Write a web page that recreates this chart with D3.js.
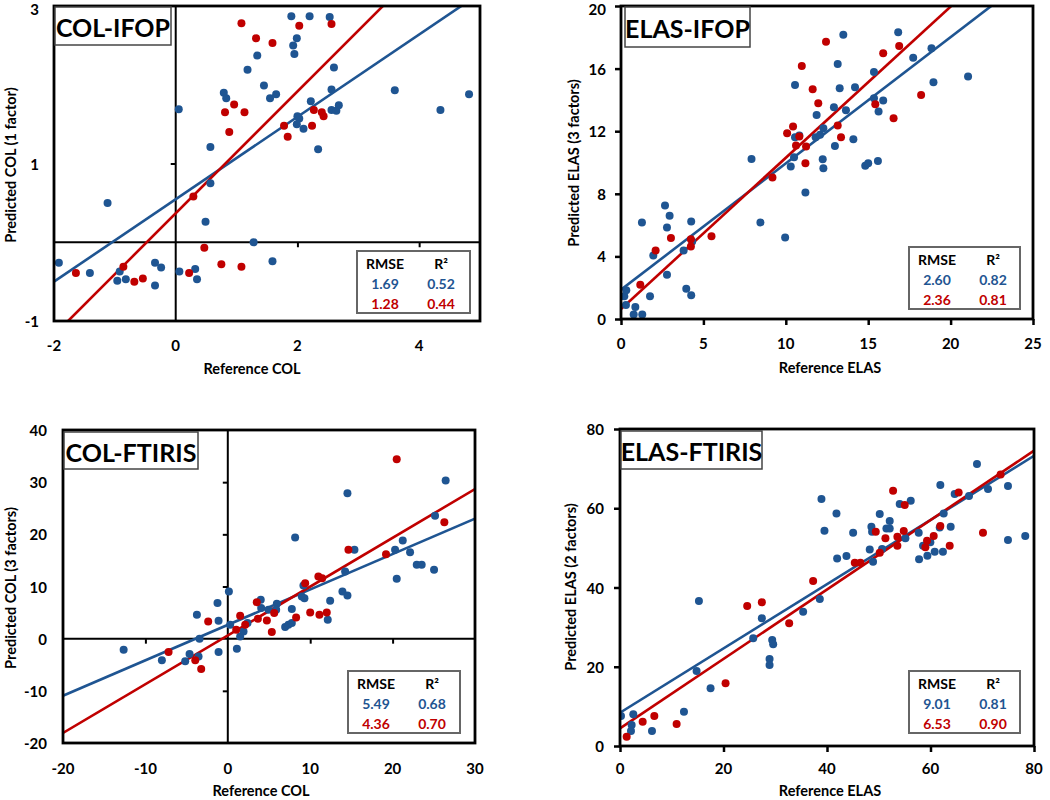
<!DOCTYPE html>
<html>
<head>
<meta charset="utf-8">
<script src="https://cdn.jsdelivr.net/npm/d3@7"></script>
<style>
  html, body { margin: 0; padding: 0; background: #fff; }
  svg { display: block; }
  text { font-family: Lato, "Open Sans", "DejaVu Sans", sans-serif; font-weight: bold; }
</style>
</head>
<body>
<svg id="chart" width="1050" height="800"></svg>
<script>
// ---------------- DATA ----------------
// Panel 1: COL-IFOP
const colIfopBlue = [
  [-1.92,-0.26],[-1.41,-0.39],[-1.12,0.50],[-0.96,-0.49],[-0.82,-0.47],[-0.92,-0.37],
  [-0.34,-0.26],[-0.24,-0.32],[-0.34,-0.55],[0.06,-0.37],[0.32,-0.34],[0.35,-0.47],
  [0.05,1.69],[0.57,1.21],[0.57,0.75],[0.49,0.26],[1.28,0.00],[1.59,-0.24],
  [0.79,1.90],[0.83,1.83],[1.18,2.19],[1.34,2.37],[1.45,1.99],[1.55,1.83],[1.65,1.88],
  [1.90,2.87],[2.20,2.87],[2.53,2.86],[1.99,2.59],[1.93,2.50],[1.95,2.39],[2.60,2.22],
  [2.56,1.94],[2.22,1.79],[2.00,1.60],[2.03,1.57],[1.99,1.50],[2.10,1.44],[2.34,1.18],
  [2.56,1.68],[2.64,1.67],[2.68,1.74],[3.60,1.93],[4.35,1.68],[4.82,1.88]
];
const colIfopRed = [
  [-1.64,-0.39],[-0.86,-0.31],[-0.68,-0.50],[-0.54,-0.46],[0.22,-0.39],[0.47,-0.07],
  [0.75,-0.28],[1.08,-0.31],[0.29,0.58],[0.88,1.40],[0.81,1.65],[0.96,1.75],[1.13,1.65],
  [1.08,2.78],[1.32,2.59],[1.59,2.53],[2.03,2.75],[2.56,2.77],[1.78,1.48],[1.84,1.34],
  [2.24,1.48],[2.27,1.68],[2.40,1.65],[2.43,1.60]
];
const colIfopFitBlue = [0.523, 0.546];   // slope, intercept
const colIfopFitRed  = [0.773, 0.368];
const colIfopStats = ["1.69","0.52","1.28","0.44"];
const colIfopXTicks = [-2, 0, 2, 4];
const colIfopYTicks = [-1, 1, 3];

// Panel 2: ELAS-IFOP
const elasIfopBlue = [
  [0.2,1.45],[0.32,1.83],[0.3,0.9],[0.77,0.28],[0.87,0.77],[1.29,0.28],[1.27,6.17],
  [1.76,1.45],[1.96,4.06],[2.67,7.26],[2.79,5.85],[2.95,6.6],[2.79,2.83],[3.8,4.38],
  [3.96,1.94],[4.26,1.51],[4.26,6.23],[4.32,4.96],[7.92,10.23],[8.46,6.17],[9.96,5.21],
  [10.30,9.74],[10.56,14.96],[10.5,10.34],[10.56,11.62],[10.82,11.72],[11.19,8.09],
  [11.81,11.62],[11.87,13.04],[12.08,11.77],[12.28,12.19],[12.24,10.21],[12.28,9.64],
  [12.92,13.53],[12.98,11.06],[13.15,16.3],[13.27,14.74],[13.49,18.17],[13.65,13.34],
  [14.1,11.49],[14.2,14.81],[14.82,9.79],[15.0,9.96],[15.35,15.79],[15.35,14.1],
  [15.59,10.1],[15.63,13.26],[15.91,13.96],[16.82,18.32],[17.73,16.7],[18.84,17.3],
  [18.96,15.13],[21.06,15.49]
];
const elasIfopRed = [
  [1.17,2.19],[2.10,4.38],[3.03,5.17],[4.24,5.1],[4.24,4.64],[5.49,5.28],[9.19,9.04],
  [10.08,11.87],[10.44,12.3],[10.82,11.66],[10.62,11.09],[10.97,16.17],[11.19,9.96],
  [11.23,11.02],[11.63,14.68],[11.97,13.79],[12.44,17.72],[13.15,12.36],[13.35,11.62],
  [15.43,13.72],[15.91,16.98],[16.54,12.83],[16.88,17.45],[18.21,14.32]
];
const elasIfopFitBlue = [0.807, 1.87];
const elasIfopFitRed  = [0.966, 0.64];
const elasIfopStats = ["2.60","0.82","2.36","0.81"];
const elasIfopXTicks = [0, 5, 10, 15, 20, 25];
const elasIfopYTicks = [0, 4, 8, 12, 16, 20];

// Panel 3: COL-FTIRIS
const colFtirisBlue = [
  [-12.64,-2.12],[-8.0,-4.16],[-5.17,-4.35],[-4.64,-2.95],[-3.55,-3.4],[-3.75,4.58],
  [-3.43,-0.01],[-1.25,6.82],[-1.12,3.43],[-1.12,-2.57],[0.13,9.05],[0.29,2.67],
  [1.1,-1.93],[1.5,0.43],[1.91,1.39],[2.39,2.99],[4.0,7.45],[4.05,5.86],[4.94,5.54],
  [5.95,6.67],[5.87,5.54],[6.96,2.22],[7.36,2.67],[7.77,2.99],[7.77,5.67],[8.17,19.39],
  [8.98,8.09],[9.3,7.77],[9.18,10.2],[12.13,3.63],[12.42,7.26],[13.91,9.05],[14.52,8.28],
  [14.24,12.88],[14.52,27.87],[15.37,17.03],[20.3,17.03],[20.5,11.47],[21.23,18.81],
  [22.12,16.58],[22.93,14.15],[23.53,14.15],[25.03,13.2],[25.15,23.54],[26.44,30.3]
];
const colFtirisRed = [
  [-7.19,-2.57],[-3.95,-4.16],[-3.23,-5.82],[-2.38,3.3],[1.02,1.71],[1.5,4.39],[2.11,2.67],
  [3.52,7.0],[3.65,3.82],[4.74,3.5],[5.34,1.26],[5.63,4.9],[8.29,4.07],[9.39,10.64],
  [10.0,5.03],[10.99,11.92],[11.45,11.6],[11.12,4.58],[12.01,5.03],[14.64,17.03],
  [19.2,16.2],[20.5,34.38],[26.28,22.32]
];
const colFtirisFitBlue = [0.679, 2.65];
const colFtirisFitRed  = [0.935, 0.63];
const colFtirisStats = ["5.49","0.68","4.36","0.70"];
const colFtirisXTicks = [-20, -10, 0, 10, 20, 30];
const colFtirisYTicks = [-20, -10, 0, 10, 20, 30, 40];

// Panel 4: ELAS-FTIRIS
const elasFtirisBlue = [
  [0.19,7.57],[2.57,7.99],[2.25,5.3],[2.12,3.78],[6.18,3.78],[12.36,8.66],[14.8,18.92],
  [15.25,36.59],[17.5,14.55],[25.74,27.17],[27.41,32.21],[28.9,21.95],[28.9,20.44],
  [29.41,26.75],[29.6,25.65],[35.39,33.89],[38.61,37.09],[38.93,62.32],[39.51,54.33],
  [41.83,58.7],[41.96,47.35],[43.76,47.94],[45.05,53.83],[48.26,49.62],[48.58,55.34],
  [48.71,54.08],[48.9,46.51],[50.19,58.54],[50.64,49.71],[51.48,54.92],[52.12,56.77],
  [52.12,54.92],[54.05,61.06],[55.15,52.4],[56.18,61.9],[57.72,53.83],[57.79,47.1],
  [58.56,50.55],[59.4,48.02],[59.97,51.39],[60.81,49.03],[61.78,55.17],[61.9,65.85],
  [62.4,49.03],[62.55,58.7],[63.9,55.34],[64.67,63.58],[67.44,63.08],[68.98,71.15],
  [71.11,64.84],[74.97,65.6],[74.97,51.98],[78.31,52.99]
];
const elasFtirisRed = [
  [1.29,2.35],[4.38,6.14],[6.63,7.57],[10.94,5.55],[20.4,15.81],[24.58,35.32],[27.41,36.25],
  [32.69,30.95],[37.32,41.63],[45.37,46.26],[46.46,46.26],[49.42,54.08],[50.19,48.78],
  [51.29,52.4],[52.77,64.42],[53.6,52.82],[53.6,50.55],[54.83,54.25],[55.02,60.81],
  [59.01,50.13],[59.33,51.81],[60.62,52.99],[61.9,55.51],[63.71,50.55],[65.44,64.0],
  [70.14,53.83],[73.55,68.54]
];
const elasFtirisFitBlue = [0.8105, 8.41];
const elasFtirisFitRed  = [0.876, 4.46];
const elasFtirisStats = ["9.01","0.81","6.53","0.90"];
const elasFtirisXTicks = [0, 20, 40, 60, 80];
const elasFtirisYTicks = [0, 20, 40, 60, 80];

const BLUE = "#1f5592";
const RED = "#c00000";

// ---------------- DRAW ----------------
const svg = d3.select("#chart");

function drawPanel(cfg, idx) {
  const f = cfg.frame;
  const x = d3.scaleLinear().domain(cfg.xDomain).range([f[0], f[2]]);
  const y = d3.scaleLinear().domain(cfg.yDomain).range([f[3], f[1]]);
  const g = svg.append("g");

  const clipId = "clip" + idx;
  g.append("clipPath").attr("id", clipId)
    .append("rect").attr("x", f[0]).attr("y", f[1]).attr("width", f[2]-f[0]).attr("height", f[3]-f[1]);

  if (cfg.zeroAxes) {
    const x0 = x(0), y0 = y(0);
    const xAxis = d3.axisBottom(x).tickValues(cfg.xTicks.filter(v => v !== 0 && v !== cfg.xDomain[0] && v !== cfg.xDomain[1]))
      .tickSize(5).tickFormat("");
    const gx = g.append("g").attr("transform", `translate(0,${y0})`).call(xAxis);
    gx.select(".domain").remove();
    gx.selectAll(".tick line").attr("stroke", "#000").attr("stroke-width", 2);
    g.append("line").attr("x1", f[0]).attr("x2", f[2]).attr("y1", y0).attr("y2", y0)
      .attr("stroke", "#000").attr("stroke-width", 2);
    const yAxis = d3.axisLeft(y).tickValues(cfg.yTicks.filter(v => v !== 0 && v !== cfg.yDomain[0] && v !== cfg.yDomain[1]))
      .tickSize(5).tickFormat("");
    const gy = g.append("g").attr("transform", `translate(${x0},0)`).call(yAxis);
    gy.select(".domain").remove();
    gy.selectAll(".tick line").attr("stroke", "#000").attr("stroke-width", 2);
    g.append("line").attr("x1", x0).attr("x2", x0).attr("y1", f[1]).attr("y2", f[3])
      .attr("stroke", "#000").attr("stroke-width", 2);
  } else {
    const xAxis = d3.axisBottom(x).tickValues(cfg.xTicks).tickSize(6).tickFormat("");
    const gx = g.append("g").attr("transform", `translate(0,${f[3]})`).call(xAxis);
    gx.select(".domain").remove();
    gx.selectAll(".tick line").attr("stroke", "#000").attr("stroke-width", 2.5);
    const yAxis = d3.axisLeft(y).tickValues(cfg.yTicks).tickSize(6).tickFormat("");
    const gy = g.append("g").attr("transform", `translate(${f[0]},0)`).call(yAxis);
    gy.select(".domain").remove();
    gy.selectAll(".tick line").attr("stroke", "#000").attr("stroke-width", 2.5);
  }

  // tick labels
  g.selectAll(".xl").data(cfg.xTicks).enter().append("text")
    .attr("x", d => x(d)).attr("y", cfg.xLabelY)
    .attr("text-anchor", "middle").attr("dominant-baseline", "central")
    .attr("font-size", 15).attr("fill", "#000").text(d => d);
  g.selectAll(".yl").data(cfg.yTicks).enter().append("text")
    .attr("x", cfg.yLabelRight).attr("y", d => Math.max(y(d), 9))
    .attr("text-anchor", "end").attr("dominant-baseline", "central")
    .attr("font-size", 15).attr("fill", "#000").text(d => d);

  // regression lines
  const plot = g.append("g").attr("clip-path", `url(#${clipId})`);
  const line = d3.line().x(d => x(d[0])).y(d => y(d[1]));
  [[cfg.fitBlue, BLUE], [cfg.fitRed, RED]].forEach(([fit, col]) => {
    const pts = cfg.xDomain.map(v => [v, fit[0]*v + fit[1]]);
    plot.append("path").attr("d", line(pts)).attr("fill", "none")
      .attr("stroke", col).attr("stroke-width", 2.6);
  });

  // points
  plot.selectAll(".b").data(cfg.blue).enter().append("circle")
    .attr("cx", d => x(d[0])).attr("cy", d => y(d[1])).attr("r", 4).attr("fill", BLUE);
  plot.selectAll(".r").data(cfg.red).enter().append("circle")
    .attr("cx", d => x(d[0])).attr("cy", d => y(d[1])).attr("r", 4).attr("fill", RED);

  // frame
  g.append("rect").attr("x", f[0]).attr("y", f[1]).attr("width", f[2]-f[0]).attr("height", f[3]-f[1])
    .attr("fill", "none").attr("stroke", "#000").attr("stroke-width", 2.8);

  // title box
  const tb = cfg.titleBox;
  g.append("rect").attr("x", tb[0]).attr("y", tb[1]).attr("width", tb[2]-tb[0]).attr("height", tb[3]-tb[1])
    .attr("fill", "#fff").attr("stroke", "#444").attr("stroke-width", 1.5);
  g.append("text").attr("x", (tb[0]+tb[2])/2).attr("y", (tb[1]+tb[3])/2 + 1)
    .attr("text-anchor", "middle").attr("dominant-baseline", "central")
    .attr("font-size", 25).attr("fill", "#000").text(cfg.title);

  // stats legend
  const lb = cfg.legendBox;
  g.append("rect").attr("x", lb[0]).attr("y", lb[1]).attr("width", lb[2]-lb[0]).attr("height", lb[3]-lb[1])
    .attr("fill", "#fff").attr("stroke", "#666").attr("stroke-width", 2);
  const c1 = lb[0] + 28, c2 = lb[0] + 84;
  const rows = [lb[1] + 12, lb[1] + 32, lb[1] + 52];
  const hdr = [["RMSE", c1], ["R²", c2]];
  hdr.forEach(([t, cx]) => g.append("text").attr("x", cx).attr("y", rows[0])
    .attr("text-anchor", "middle").attr("dominant-baseline", "central")
    .attr("font-size", 14).attr("fill", "#000").text(t));
  const s = cfg.stats;
  [[s[0], c1, rows[1], BLUE], [s[1], c2, rows[1], BLUE], [s[2], c1, rows[2], RED], [s[3], c2, rows[2], RED]]
    .forEach(([t, cx, cy, col]) => g.append("text").attr("x", cx).attr("y", cy)
      .attr("text-anchor", "middle").attr("dominant-baseline", "central")
      .attr("font-size", 14).attr("fill", col).text(t));

  // axis titles
  g.append("text").attr("x", cfg.xTitle[1]).attr("y", cfg.xTitle[2])
    .attr("text-anchor", "middle").attr("dominant-baseline", "central")
    .attr("font-size", 14.5).attr("fill", "#000").text(cfg.xTitle[0]);
  g.append("text").attr("transform", `translate(${cfg.yTitle[1]},${cfg.yTitle[2]}) rotate(-90)`)
    .attr("text-anchor", "middle").attr("dominant-baseline", "central")
    .attr("font-size", 14.5).attr("fill", "#000").text(cfg.yTitle[0]);
}

const panels = [
  { frame: [54, 6, 480, 321], xDomain: [-2, 5], yDomain: [-1, 3], zeroAxes: true,
    xTicks: colIfopXTicks, yTicks: colIfopYTicks, blue: colIfopBlue, red: colIfopRed,
    fitBlue: colIfopFitBlue, fitRed: colIfopFitRed, stats: colIfopStats,
    title: "COL-IFOP", titleBox: [55, 7, 171, 45], legendBox: [357, 251, 470, 313],
    xLabelY: 345, yLabelRight: 39,
    xTitle: ["Reference COL", 252, 368], yTitle: ["Predicted COL (1 factor)", 10, 165] },
  { frame: [621, 6, 1033, 319], xDomain: [0, 25], yDomain: [0, 20], zeroAxes: false,
    xTicks: elasIfopXTicks, yTicks: elasIfopYTicks, blue: elasIfopBlue, red: elasIfopRed,
    fitBlue: elasIfopFitBlue, fitRed: elasIfopFitRed, stats: elasIfopStats,
    title: "ELAS-IFOP", titleBox: [625, 7, 750, 47], legendBox: [909, 247, 1020, 309],
    xLabelY: 343, yLabelRight: 606,
    xTitle: ["Reference ELAS", 830, 367], yTitle: ["Predicted ELAS (3 factors)", 573, 163] },
  { frame: [63, 430, 475, 743], xDomain: [-20, 30], yDomain: [-20, 40], zeroAxes: true,
    xTicks: colFtirisXTicks, yTicks: colFtirisYTicks, blue: colFtirisBlue, red: colFtirisRed,
    fitBlue: colFtirisFitBlue, fitRed: colFtirisFitRed, stats: colFtirisStats,
    title: "COL-FTIRIS", titleBox: [64, 432, 198, 469], legendBox: [348, 671, 460, 733],
    xLabelY: 768, yLabelRight: 47,
    xTitle: ["Reference COL", 261, 790], yTitle: ["Predicted COL (3 factors)", 10, 588] },
  { frame: [620, 429, 1034, 746], xDomain: [0, 80], yDomain: [0, 80], zeroAxes: false,
    xTicks: elasFtirisXTicks, yTicks: elasFtirisYTicks, blue: elasFtirisBlue, red: elasFtirisRed,
    fitBlue: elasFtirisFitBlue, fitRed: elasFtirisFitRed, stats: elasFtirisStats,
    title: "ELAS-FTIRIS", titleBox: [621, 431, 762, 469], legendBox: [909, 671, 1020, 733],
    xLabelY: 768, yLabelRight: 604,
    xTitle: ["Reference ELAS", 830, 790], yTitle: ["Predicted ELAS (2 factors)", 570, 587] }
];

panels.forEach((p, i) => drawPanel(p, i));
</script>
</body>
</html>
